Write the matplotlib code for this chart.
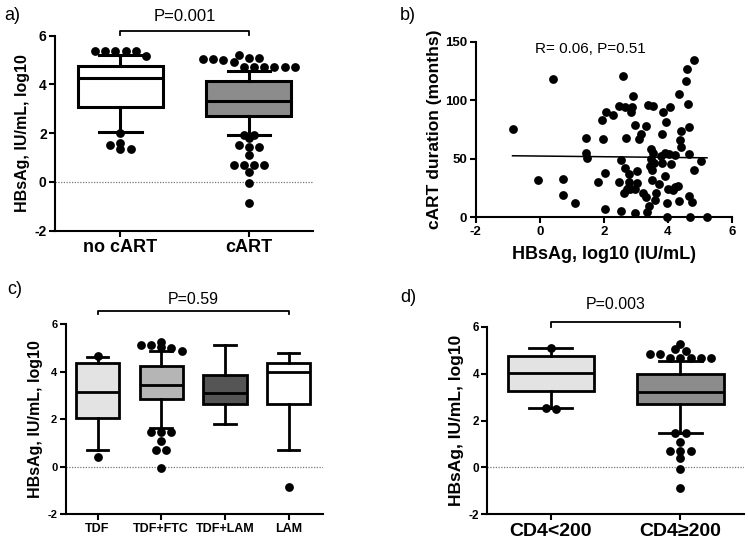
import numpy as np
import matplotlib
matplotlib.use("Agg")
import matplotlib.pyplot as plt

plt.rcParams['font.family'] = ['Liberation Sans', 'DejaVu Sans']

# ---------------- data ----------------
# panel a
a_groups = ["no cART", "cART"]
a_q1 = [3.07, 2.71]
a_med = [4.28, 3.32]
a_q3 = [4.77, 4.14]
a_lo = [2.05, 1.93]
a_hi = [5.21, 4.56]
a_out_nocart = [5.37, 5.37, 5.37, 5.37, 5.37, 5.18, 2.02, 1.58, 1.51, 1.35, 1.34]
a_out_cart = [5.22, 5.10, 5.10, 5.05, 5.05, 5.00, 4.92, 4.72, 4.72, 4.72, 4.72, 4.72, 4.72,
              1.94, 1.92, 1.80, 1.50, 1.45, 1.45, 1.10, 0.70, 0.70, 0.70, 0.70, 0.40, -0.05, -0.86]
a_pval = "P=0.001"

# panel b
b_x = [-0.85, 0.41, -0.06, 0.71, 0.71, 1.11, 1.44, 1.44, 1.48, 1.95, 2.07, 1.98, 2.29, 1.81,
       2.03, 2.03, 2.47, 2.60, 2.66, 2.89, 2.92, 2.85, 2.97, 2.69, 2.52, 2.47, 2.52, 2.66,
       2.79, 2.79, 2.71, 2.78, 2.64, 2.83, 2.97, 3.04, 2.97, 3.04, 3.09, 3.16, 3.33, 3.39,
       3.54, 3.48, 3.48, 3.54, 3.56, 3.45, 3.23, 3.31, 3.42, 3.35, 3.49, 3.49, 3.64, 3.60,
       3.72, 3.77, 3.83, 3.83, 3.85, 3.95, 3.90, 3.90, 3.97, 3.97, 4.04, 4.11, 4.08, 4.00,
       4.16, 4.23, 4.31, 4.22, 4.35, 4.37, 4.40, 4.42, 4.35, 4.56, 4.60, 4.64, 4.67, 4.67,
       4.66, 4.70, 4.80, 4.76, 4.80, 5.03, 5.22]
b_y = [75.7, 118, 31.9, 32.7, 19, 12.5, 68, 55, 51, 83, 90, 67, 87, 30.5,
       37.6, 6.8, 95, 121, 94.5, 94.5, 103.6, 90, 79, 68, 49, 30, 5.7, 42,
       37, 30.5, 24, 26, 20.5, 24, 24, 29, 3.4, 39.6, 66.6, 71, 78, 95.6,
       95, 58, 49.5, 54.6, 46, 44, 21, 17, 10, 4.6, 32, 40, 21, 15,
       28.5, 52, 46, 71, 90, 81, 55, 35, 12.5, 0, 54, 45.5, 94.5, 24,
       23, 25.6, 27, 53, 105, 66, 74, 60, 13.7, 116.7, 127, 97, 77, 54,
       18.5, 0, 134, 12.8, 40, 48, 0.6]
b_text = "R= 0.06, P=0.51"

# panel c
c_groups = ["TDF", "TDF+FTC", "TDF+LAM", "LAM"]
c_q1 = [2.04, 2.86, 2.65, 2.62]
c_med = [3.13, 3.45, 3.10, 3.97]
c_q3 = [4.36, 4.22, 3.87, 4.37]
c_lo = [0.72, 1.63, 1.80, 0.72]
c_hi = [4.60, 4.85, 5.12, 4.77]
c_out = [[4.65, 0.40],
         [5.25, 5.12, 5.10, 5.02, 5.00, 4.88, 1.48, 1.46, 1.45, 1.10, 0.70, 0.70, -0.06],
         [],
         [-0.86]]
c_colors = ["#e3e3e3", "#b5b5b5", "#555555", "#ffffff"]
c_pval = "P=0.59"

# panel d
d_groups = ["CD4<200", "CD4≥200"]
d_q1 = [3.27, 2.70]
d_med = [4.03, 3.22]
d_q3 = [4.74, 4.00]
d_lo = [2.55, 1.48]
d_hi = [5.09, 4.55]
d_out_low = [5.10, 2.53, 2.48]
d_out_high = [5.26, 5.03, 4.95, 4.84, 4.82, 4.66, 4.66, 4.66, 4.66, 4.66,
              1.45, 1.45, 1.10, 0.70, 0.70, 0.70, 0.40, -0.06, -0.87]
d_pval = "P=0.003"

# ---------------- helpers ----------------
W, H = 748, 545
fig = plt.figure(figsize=(W / 100, H / 100), dpi=100)


def swarm(ax, pos, vals, dot_px=8.5):
    """Offsets for outliers: values are grouped into rows of about one dot height
    and spread symmetrically around the box centre."""
    vals = np.asarray(vals, dtype=float)
    if vals.size == 0:
        return np.array([]), vals
    bb = ax.get_window_extent()
    x0, x1 = ax.get_xlim()
    y0, y1 = ax.get_ylim()
    dx = dot_px * (x1 - x0) / bb.width * 1.2
    dy = dot_px * (y1 - y0) / bb.height
    rows = np.round(vals / dy).astype(int)
    xs = np.zeros_like(vals)
    for r in np.unique(rows):
        idx = np.where(rows == r)[0]
        k = len(idx)
        xs[idx] = pos + (np.arange(k) - (k - 1) / 2) * dx
    return xs, vals


def box_panel(ax, q1, med, q3, lo, hi, colors, width, lw=2.0):
    stats = []
    for i in range(len(q1)):
        stats.append(dict(med=med[i], q1=q1[i], q3=q3[i], whislo=lo[i], whishi=hi[i], fliers=[]))
    pos = np.arange(1, len(q1) + 1)
    bp = ax.bxp(stats, positions=pos, widths=width, patch_artist=True, showfliers=False,
                boxprops=dict(linewidth=lw, edgecolor="black"),
                medianprops=dict(color="black", linewidth=lw),
                whiskerprops=dict(color="black", linewidth=lw),
                capprops=dict(color="black", linewidth=lw),
                capwidths=width * 0.5)
    for patch, col in zip(bp['boxes'], colors):
        patch.set_facecolor(col)
    return pos


def style_box_axes(ax, xlim, labels, xfs, yfs, ylabel, ylfs):
    ax.set_xlim(*xlim)
    ax.set_ylim(-2, 6)
    ax.set_yticks([-2, 0, 2, 4, 6])
    ax.set_yticklabels(["-2", "0", "2", "4", "6"], fontweight="bold", fontsize=yfs)
    ax.set_xticks(np.arange(1, len(labels) + 1))
    ax.set_xticklabels(labels, fontweight="bold", fontsize=xfs)
    for s in ["top", "right"]:
        ax.spines[s].set_visible(False)
    for s in ["left", "bottom"]:
        ax.spines[s].set_linewidth(1.5)
    ax.tick_params(axis="both", width=1.5, length=4, pad=2)
    ax.set_ylabel(ylabel, fontweight="bold", fontsize=ylfs, labelpad=3)
    ax.axhline(0, color="#777777", linestyle=(0, (1, 1.2)), linewidth=0.9, zorder=0)


def bracket(ax, x1, x2, ybar, yend, ytext, text, fs):
    ax.plot([x1, x1, x2, x2], [yend, ybar, ybar, yend], color="black", linewidth=1.3,
            clip_on=False)
    ax.text((x1 + x2) / 2, ytext, text, ha="center", va="center", fontsize=fs, clip_on=False)


def px_axes(left, top, right, bottom):
    return fig.add_axes([left / W, 1 - bottom / H, (right - left) / W, (bottom - top) / H])


# ---------------- panel a ----------------
axa = px_axes(55, 35.7, 313, 230.7)
pa = box_panel(axa, a_q1, a_med, a_q3, a_lo, a_hi, ["#ffffff", "#8c8c8c"], 0.66, lw=2.2)
style_box_axes(axa, (0.49, 2.5), a_groups, 13, 10, "HBsAg, IU/mL, log10", 11.5)
for p, outs in zip(pa, [a_out_nocart, a_out_cart]):
    xs, ys = swarm(axa, p, outs)
    axa.scatter(xs, ys, s=40, color="black", zorder=5, clip_on=False, linewidths=0)
bracket(axa, pa[0], pa[1], 6.2, 6.02, 6.78, a_pval, 12)

# ---------------- panel b ----------------
axb = px_axes(475.7, 41.7, 732, 217.3)
bx = np.array(b_x)
by = np.array(b_y)
axb.scatter(bx, by, s=40, color="black", zorder=5, clip_on=False, linewidths=0)
slope, icpt = np.polyfit(bx, by, 1)
xl = np.array([bx.min(), bx.max()])
axb.plot(xl, icpt + slope * xl, color="black", linewidth=1.1)
axb.set_xlim(-2, 6)
axb.set_ylim(0, 150)
axb.set_xticks([-2, 0, 2, 4, 6])
axb.set_xticklabels(["-2", "0", "2", "4", "6"], fontweight="bold", fontsize=9.5)
axb.set_yticks([0, 50, 100, 150])
axb.set_yticklabels(["0", "50", "100", "150"], fontweight="bold", fontsize=9.5)
for s in ["top", "right"]:
    axb.spines[s].set_visible(False)
for s in ["left", "bottom"]:
    axb.spines[s].set_linewidth(1.5)
axb.tick_params(axis="both", width=1.5, length=4, pad=2)
axb.set_xlabel("HBsAg, log10 (IU/mL)", fontweight="bold", fontsize=13, labelpad=6)
axb.set_ylabel("cART duration (months)", fontweight="bold", fontsize=12.5, labelpad=2)
axb.text(1.57, 143.8, b_text, ha="center", va="center", fontsize=11)

# ---------------- panel c ----------------
axc = px_axes(65.7, 324, 323, 514.3)
pc = box_panel(axc, c_q1, c_med, c_q3, c_lo, c_hi, c_colors, 0.68, lw=2.0)
style_box_axes(axc, (0.5, 4.54), c_groups, 9, 8, "HBsAg, IU/mL, log10", 11.5)
for p, outs in zip(pc, c_out):
    xs, ys = swarm(axc, p, outs)
    if len(xs):
        axc.scatter(xs, ys, s=40, color="black", zorder=5, clip_on=False, linewidths=0)
bracket(axc, pc[0], pc[-1], 6.56, 6.42, 7.05, c_pval, 11.5)

# ---------------- panel d ----------------
axd = px_axes(487.3, 326.7, 744, 514.3)
pdp = box_panel(axd, d_q1, d_med, d_q3, d_lo, d_hi, ["#e3e3e3", "#8c8c8c"], 0.665, lw=2.0)
style_box_axes(axd, (0.51, 2.49), d_groups, 14, 8.5, "HBsAg, IU/mL, log10", 12.5)
for p, outs in zip(pdp, [d_out_low, d_out_high]):
    xs, ys = swarm(axd, p, outs)
    axd.scatter(xs, ys, s=40, color="black", zorder=5, clip_on=False, linewidths=0)
bracket(axd, pdp[0], pdp[1], 6.21, 6.0, 6.93, d_pval, 11.5)

# ---------------- panel letters ----------------
fig.text(12 / W, 1 - 15 / H, "a)", fontsize=13, ha="center", va="center")
fig.text(408 / W, 1 - 15 / H, "b)", fontsize=13, ha="center", va="center")
fig.text(15 / W, 1 - 289 / H, "c)", fontsize=13, ha="center", va="center")
fig.text(408 / W, 1 - 297 / H, "d)", fontsize=13, ha="center", va="center")

fig.savefig("out.png", dpi=100)
